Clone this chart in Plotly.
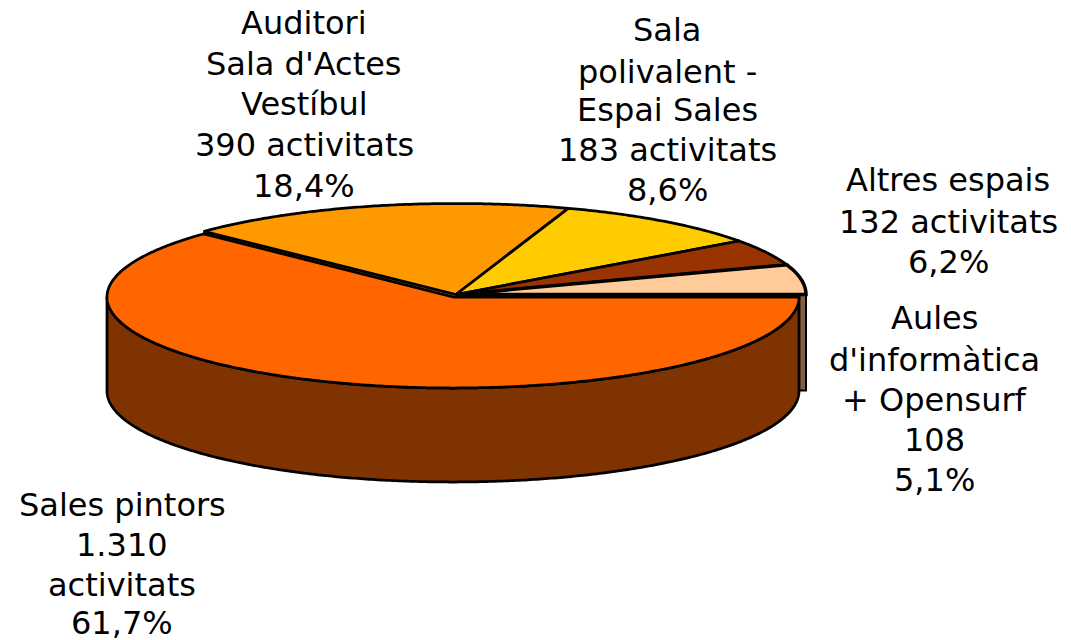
import math
import plotly.graph_objects as go

# Data
categories = ["Sales pintors", "Auditori / Sala d'Actes / Vestíbul",
              "Sala polivalent - Espai Sales", "Altres espais",
              "Aules d'informàtica + Opensurf"]
printed_shares = [61.7, 18.4, 8.6, 6.2, 5.1]   # as printed in the labels
# wedge sizes as actually drawn in the reference (they differ a little from the printed shares)
drawn_shares = [62.2, 18.0, 9.8, 4.7, 5.3]
top_colors = ["#FF6600", "#FF9900", "#FFCC00", "#993300", "#FFCC99"]

label_lines = [
    ["Sales pintors", "1.310", "activitats", "61,7%"],
    ["Auditori", "Sala d'Actes", "Vestíbul", "390 activitats", "18,4%"],
    ["Sala", "polivalent -", "Espai Sales", "183 activitats", "8,6%"],
    ["Altres espais", "132 activitats", "6,2%"],
    ["Aules", "d'informàtica", "+ Opensurf", "108", "5,1%"],
]
label_x = [122, 304, 667, 948, 934]
label_y = [
    [505, 545, 585, 623],
    [23, 64, 104, 145, 186],
    [30, 72, 110, 150, 190],
    [180, 222, 262],
    [318, 360, 400, 440, 480],
]

# Style / projection of the pie
PAGE_MARGIN = 8
W, H = 1071, 640
CX, CY, RX, RY = 456, 294.5, 350, 91
OFF_X, OFF_Y = -3, 2.5      # offset of the exploded first slice
RX0 = 346
DEPTH = 94
WALL = "#7F3300"
CUT_RIGHT = "#806040"
CUT_LEFT = "#7F5000"
FONT = "DejaVu Sans"
FONT_SIZE = 32
EDGE = 2.75


def pt(deg, cx=CX, cy=CY, rx=RX, ry=RY):
    """deg runs clockwise from 3 o'clock; screen y grows downward."""
    a = math.radians(deg)
    return cx + rx * math.cos(a), cy + ry * math.sin(a)


def arc(start, end, **kw):
    n = max(2, int(abs(end - start) * 2))
    pts = [pt(start + (end - start) * i / n, **kw) for i in range(n + 1)]
    return [p[0] for p in pts], [p[1] for p in pts]


def poly(xs, ys, fill, width=EDGE):
    return go.Scatter(x=xs, y=ys, mode="lines", fill="toself", fillcolor=fill,
                      line=dict(color="black", width=width, simplify=False),
                      hoverinfo="skip", showlegend=False)


fig = go.Figure()

total = sum(drawn_shares)
bounds = [0]
for s in drawn_shares:
    bounds.append(bounds[-1] + s / total * 360)

c0 = dict(cx=CX + OFF_X, cy=CY + OFF_Y, rx=RX0, ry=RY)

ex, ey = pt(0)
fig.add_trace(poly([CX, ex, ex, CX, CX], [CY, ey, ey + DEPTH + 2, CY + DEPTH + 2, CY],
                   CUT_RIGHT, 2))
ex, ey = pt(bounds[1])
fig.add_trace(poly([CX, ex, ex, CX, CX], [CY, ey, ey + DEPTH, CY + DEPTH, CY], CUT_LEFT, 1.5))

ax, ay = arc(0, 180, **c0)
wx = ax + ax[::-1] + [ax[0]]
wy = ay + [v + DEPTH for v in ay[::-1]] + [ay[0]]
fig.add_trace(poly(wx, wy, WALL))

for i in range(1, len(drawn_shares)):
    xs, ys = arc(bounds[i], bounds[i + 1])
    fig.add_trace(poly([CX] + xs + [CX], [CY] + ys + [CY], top_colors[i],
                       3.5 if i == 4 else EDGE))

xs, ys = arc(bounds[0], bounds[1], **c0)
fig.add_trace(poly([c0["cx"]] + xs + [c0["cx"]], [c0["cy"]] + ys + [c0["cy"]], top_colors[0]))

for lines, x, ypos in zip(label_lines, label_x, label_y):
    for line, y in zip(lines, ypos):
        fig.add_annotation(x=x, y=y, text=line, showarrow=False, xref="x", yref="y",
                           xanchor="center", yanchor="middle",
                           font=dict(family=FONT, size=FONT_SIZE, color="black"))

# the page has an 8 px body margin: the axes map page pixels directly
fig.update_layout(
    width=W - PAGE_MARGIN, height=H - PAGE_MARGIN, margin=dict(l=0, r=0, t=0, b=0),
    paper_bgcolor="white", plot_bgcolor="white", showlegend=False,
    xaxis=dict(range=[PAGE_MARGIN, W], visible=False, fixedrange=True),
    yaxis=dict(range=[H, PAGE_MARGIN], visible=False, fixedrange=True),
)
fig.write_html("out.html", config={"displayModeBar": False})
